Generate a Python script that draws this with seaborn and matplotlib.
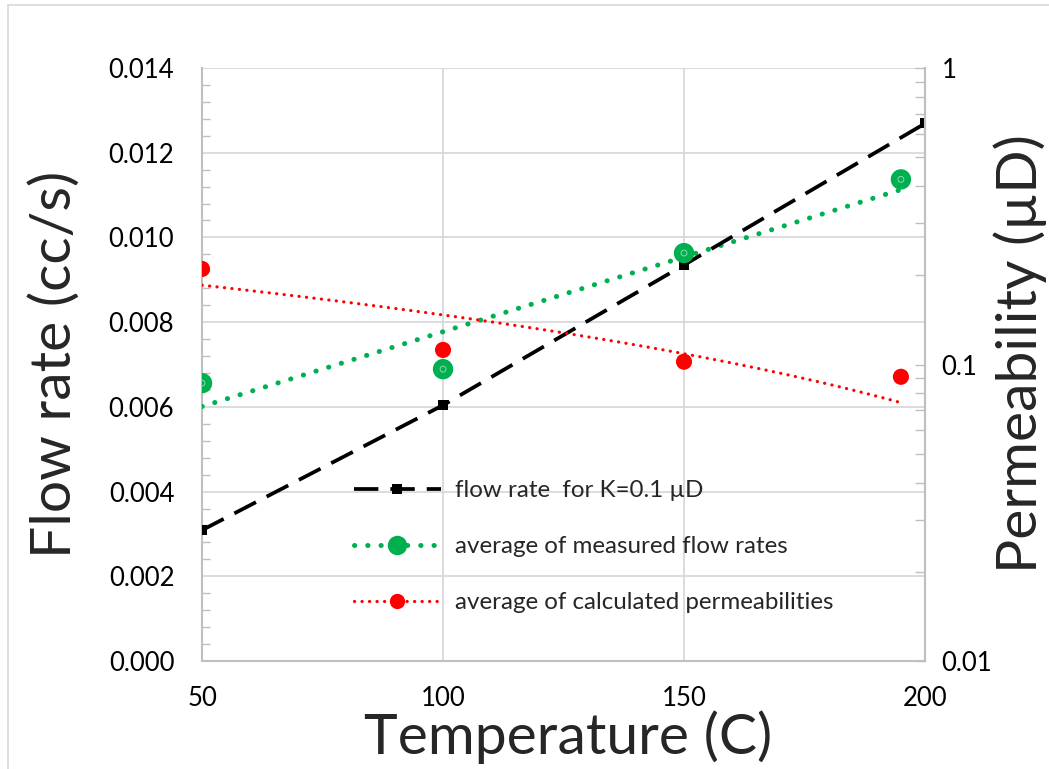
import matplotlib
matplotlib.use("Agg")
import matplotlib.pyplot as plt
import matplotlib.ticker as ticker
from matplotlib.lines import Line2D
import numpy as np
import pandas as pd
import seaborn as sns

# ---- data ----
temp_model = [50, 100, 150, 200]
flow_model = [0.00309, 0.00604, 0.00935, 0.01269]      # flow rate for K=0.1 uD

temp_meas = [50, 100, 150, 195]
flow_meas = [0.00656, 0.00689, 0.00963, 0.01137]       # average measured flow rates
perm_calc = [0.210, 0.112, 0.1022, 0.0909]             # average calculated permeabilities

GREEN = "#00B050"
RED = "#FF0000"
GRID = "#D9D9D9"
AXC = "#BFBFBF"

sns.set_theme(style="white")
plt.rcParams["font.family"] = ["Lato", "DejaVu Sans"]

fig = plt.figure(figsize=(10.49, 7.69), dpi=100)
ax = fig.add_axes([0.1926, 0.1404, 0.6892, 0.7712])
ax2 = ax.twinx()

df_model = pd.DataFrame({"T": temp_model, "Q": flow_model})
df_meas = pd.DataFrame({"T": temp_meas, "Q": flow_meas, "K": perm_calc})

# linear trendlines (Excel style), red one drawn on a log axis
xs = np.linspace(min(temp_meas), max(temp_meas), 60)
g_fit = np.polyval(np.polyfit(temp_meas, flow_meas, 1), xs)
r_fit = np.polyval(np.polyfit(temp_meas, perm_calc, 1), xs)

ax.plot(xs, g_fit, color=GREEN, lw=3.6, linestyle=(0, (0.05, 2.6)),
        dash_capstyle="round", zorder=3)
sns.lineplot(data=df_model, x="T", y="Q", ax=ax, color="black", lw=2.7,
             marker="s", markersize=6.5, markeredgewidth=0,
             linestyle=(0, (6.5, 3.2)), zorder=4)
sns.scatterplot(data=df_meas, x="T", y="Q", ax=ax, color=GREEN, s=215,
                edgecolor="none", zorder=5)
sns.scatterplot(data=df_meas, x="T", y="Q", ax=ax, s=18, facecolor="none",
                edgecolor="#8fd9ac", linewidth=0.7, zorder=6)

ax2.plot(xs, r_fit, color=RED, lw=2.3, linestyle=(0, (0.05, 2.3)),
         dash_capstyle="round", zorder=3)
sns.scatterplot(data=df_meas, x="T", y="K", ax=ax2, color=RED, s=135,
                edgecolor="none", zorder=5)

# ---- left axis ----
ax.set_xlim(50, 200)
ax.set_ylim(0, 0.014)
ax.yaxis.set_major_locator(ticker.MultipleLocator(0.002))
ax.yaxis.set_minor_locator(ticker.MultipleLocator(0.0004))
ax.yaxis.set_major_formatter(ticker.FormatStrFormatter("%.3f"))
ax.xaxis.set_major_locator(ticker.MultipleLocator(50))
ax.grid(True, axis="both", color=GRID, lw=1.3)
ax.set_axisbelow(True)
ax.tick_params(axis="y", which="minor", direction="in", length=6, width=1,
               color=AXC, left=True)
ax.tick_params(axis="y", which="major", direction="in", length=0, pad=20,
               labelsize=18.5, labelcolor="black")
ax.tick_params(axis="x", which="major", length=0, pad=18, labelsize=18.5,
               labelcolor="black")
for side in ["left", "bottom", "right"]:
    ax.spines[side].set_color(AXC)
    ax.spines[side].set_linewidth(1.5)
ax.spines["top"].set_visible(False)
ax.set_xlabel("Temperature (C)", fontsize=41)
ax.xaxis.set_label_coords(0.506, -0.083)
ax.set_ylabel("Flow rate (cc/s)", fontsize=41)
ax.yaxis.set_label_coords(-0.168, 0.5)

# ---- right log axis ----
ax2.set_yscale("log")
ax2.set_ylim(0.01, 1)
ax2.yaxis.set_major_locator(ticker.LogLocator(base=10))
ax2.yaxis.set_minor_locator(ticker.LogLocator(base=10, subs=np.arange(2, 10)))
ax2.yaxis.set_minor_formatter(ticker.NullFormatter())
ax2.yaxis.set_major_formatter(ticker.FuncFormatter(lambda v, p: "%g" % v))
ax2.tick_params(axis="y", which="both", direction="in", length=7, width=1,
                color=AXC, pad=12, labelsize=18.5, labelcolor="black")
for side in ["top", "left", "bottom"]:
    ax2.spines[side].set_visible(False)
ax2.spines["right"].set_color(AXC)
ax2.spines["right"].set_linewidth(1.5)
ax2.set_ylabel("Permeability (\u00b5D)", fontsize=41)
ax2.yaxis.set_label_coords(1.095, 0.518)
ax2.grid(False)
ax.set_zorder(ax2.get_zorder() - 1)
ax.patch.set_visible(False)
ax2.patch.set_visible(False)

# ---- legend ----
handles = [
    Line2D([], [], color="black", lw=2.7, linestyle=(0, (6.5, 3.2)), marker="s",
           markersize=6.5, markeredgewidth=0),
    Line2D([], [], color=GREEN, lw=3.6, linestyle=(0, (0.05, 2.6)),
           dash_capstyle="round", marker="o", markersize=14, markeredgewidth=0),
    Line2D([], [], color=RED, lw=2.3, linestyle=(0, (0.05, 2.3)),
           dash_capstyle="round", marker="o", markersize=11, markeredgewidth=0),
]
labels = ["flow rate  for K=0.1 \u00b5D", "average of measured flow rates",
          "average of calculated permeabilities"]
fig.legend(handles, labels, loc="upper left", bbox_to_anchor=(0.3165, 0.404),
           frameon=False, fontsize=17.4, handlelength=3.6, labelspacing=1.45,
           handletextpad=0.58)

# chart frame (top and left edges visible)
fig.add_artist(Line2D([0.008, 0.008], [0, 0.993], color="#D9D9D9", lw=1.2,
                      transform=fig.transFigure))
fig.add_artist(Line2D([0.008, 1], [0.993, 0.993], color="#D9D9D9", lw=1.2,
                      transform=fig.transFigure))

fig.savefig("out.png", dpi=100)
